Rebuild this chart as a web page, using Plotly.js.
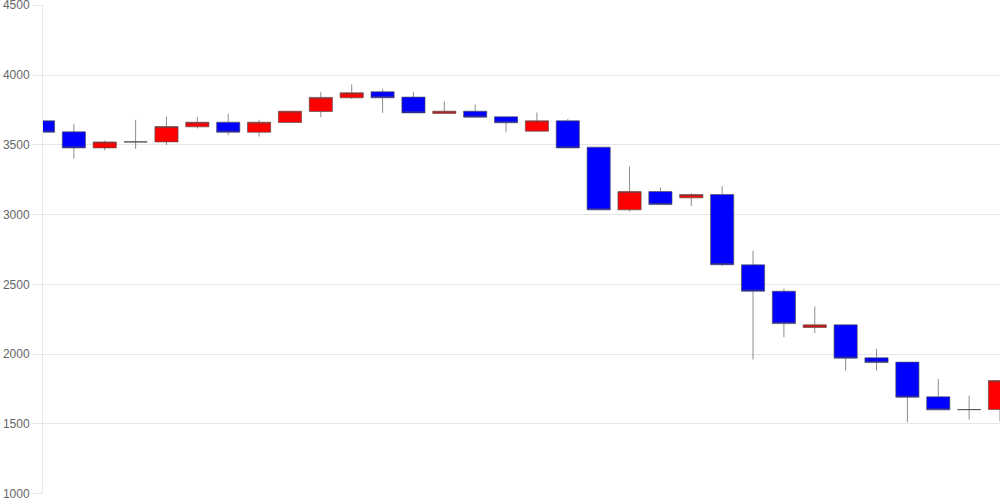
<!DOCTYPE html>
<html>
<head>
<meta charset="utf-8">
<script src="https://cdn.plot.ly/plotly-3.0.1.min.js"></script>
<style>html,body{margin:0;padding:0;background:#fff;}#chart{width:1000px;height:500px;}</style>
</head>
<body>
<div id="chart"></div>
<script>
var idx = [0,1,2,3,4,5,6,7,8,9,10,11,12,13,14,15,16,17,18,19,20,21,22,23,24,25,26,27,28,29,30,31];
var openV  = [3672,3593,3478,3521,3521,3629,3662,3590,3660,3739,3837,3880,3842,3725,3741,3701,3598,3672,3483,3034,3165,3120,3144,2640,2451,2191,2210,1974,1943,1694,1603,1603];
var highV  = [3672,3650,3531,3679,3701,3701,3722,3679,3741,3880,3933,3902,3880,3811,3789,3701,3732,3686,3483,3345,3194,3153,3203,2742,2470,2341,2210,2038,1943,1823,1703,1811];
var lowV   = [3590,3401,3461,3471,3499,3617,3569,3559,3660,3698,3828,3729,3729,3725,3698,3590,3598,3478,3034,3022,3072,3062,2632,1962,2122,2151,1883,1883,1512,1601,1531,1519];
var closeV = [3590,3478,3521,3521,3631,3662,3590,3662,3741,3840,3873,3837,3729,3741,3698,3658,3672,3478,3034,3165,3072,3144,2641,2451,2219,2210,1971,1940,1691,1601,1603,1811];
var yTicks = [1000,1500,2000,2500,3000,3500,4000,4500];

var trace = {
  type: 'candlestick',
  x: idx, open: openV, high: highV, low: lowV, close: closeV,
  increasing: {fillcolor: '#ff0000', line: {color: 'rgba(80,80,80,0.65)', width: 1}},
  decreasing: {fillcolor: '#0000ff', line: {color: 'rgba(80,80,80,0.65)', width: 1}},
  whiskerwidth: 0,
  hoverinfo: 'none'
};

var layout = {
  width: 1000, height: 500,
  margin: {l: 43, r: 0, t: 5, b: 6},
  paper_bgcolor: '#ffffff', plot_bgcolor: '#ffffff',
  showlegend: false,
  boxgap: 0.25, boxgroupgap: 0,
  font: {family: 'Liberation Sans, Arial, sans-serif', size: 12, color: '#666666'},
  xaxis: {
    range: [0, 31], showticklabels: false, showgrid: false, zeroline: false,
    showline: false, ticks: '', rangeslider: {visible: false}, fixedrange: true
  },
  yaxis: {
    range: [998, 4502], tickvals: yTicks, ticktext: yTicks.map(String),
    showgrid: true, gridcolor: '#e6e6e6', gridwidth: 1, zeroline: false,
    showline: true, linecolor: '#e6e6e6', linewidth: 1,
    ticks: 'outside', ticklen: 10, tickcolor: '#e6e6e6', tickwidth: 1,
    ticklabeloverflow: 'allow',
    tickfont: {family: 'Liberation Sans, Arial, sans-serif', size: 12, color: '#666666'},
    fixedrange: true
  }
};

Plotly.newPlot('chart', [trace], layout, {displayModeBar: false, staticPlot: true});
</script>
</body>
</html>
